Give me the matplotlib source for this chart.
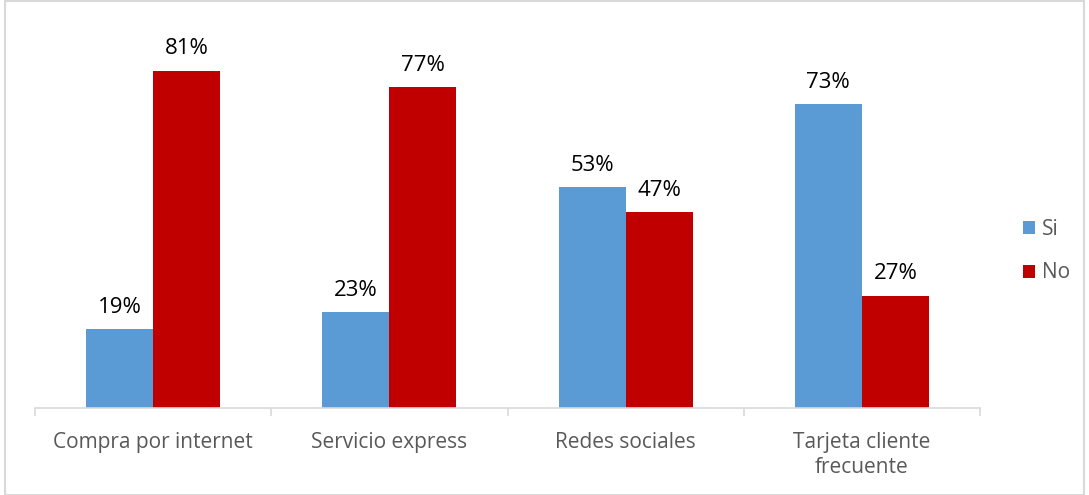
import numpy as np
import matplotlib.pyplot as plt
from matplotlib.patches import Rectangle

# Survey answers per service
categorias = ["Compra por internet", "Servicio express", "Redes sociales",
              "Tarjeta cliente\nfrecuente"]
si = [19, 23, 53, 73]
no = [81, 77, 47, 27]

AZUL = "#5B9BD5"
ROJO = "#C00000"

plt.rcParams['font.family'] = ['Open Sans', 'DejaVu Sans']

fig = plt.figure(figsize=(10.89, 4.95), dpi=100)
ax = fig.add_axes([35 / 1089, 87 / 495, 945 / 1089, 375 / 495])

x = np.arange(len(categorias))
ancho = 0.284
b1 = ax.bar(x - ancho / 2, si, ancho, color=AZUL, label="Si")
b2 = ax.bar(x + ancho / 2, no, ancho, color=ROJO, label="No")

for barras in (b1, b2):
    for b in barras:
        ax.annotate(f"{b.get_height():.0f}%",
                    (b.get_x() + b.get_width() / 2, b.get_height()),
                    xytext=(0, 8), textcoords="offset points",
                    ha="center", va="bottom", fontsize=16, color="black")

ax.set_xlim(-0.5, len(categorias) - 0.5)
ax.set_ylim(0, 90)
ax.set_yticks([])
for lado in ("top", "right", "left"):
    ax.spines[lado].set_visible(False)
ax.spines["bottom"].set_color("#D9D9D9")
ax.spines["bottom"].set_linewidth(1.2)

# category separators below the baseline
ax.set_xticks(np.arange(len(categorias) + 1) - 0.5, minor=True)
ax.tick_params(axis="x", which="minor", length=6, color="#D9D9D9", width=1.2)
ax.set_xticks(x)
ax.set_xticklabels(categorias, fontsize=15, color="#595959", linespacing=1.3)
ax.tick_params(axis="x", which="major", length=0, pad=17)

fig.legend(handles=[b1, b2], loc="center left",
           bbox_to_anchor=(1004 / 1089, 1 - 251 / 495), frameon=False,
           fontsize=15, labelcolor="#595959", handlelength=0.6,
           handleheight=0.6, labelspacing=1.1, handletextpad=0.3)

fig.patches.append(Rectangle((5 / 1089, 0), 1079 / 1089, 494 / 495,
                             transform=fig.transFigure, fill=False,
                             edgecolor="#D9D9D9", linewidth=1.5))

fig.savefig("out.png", dpi=100)
